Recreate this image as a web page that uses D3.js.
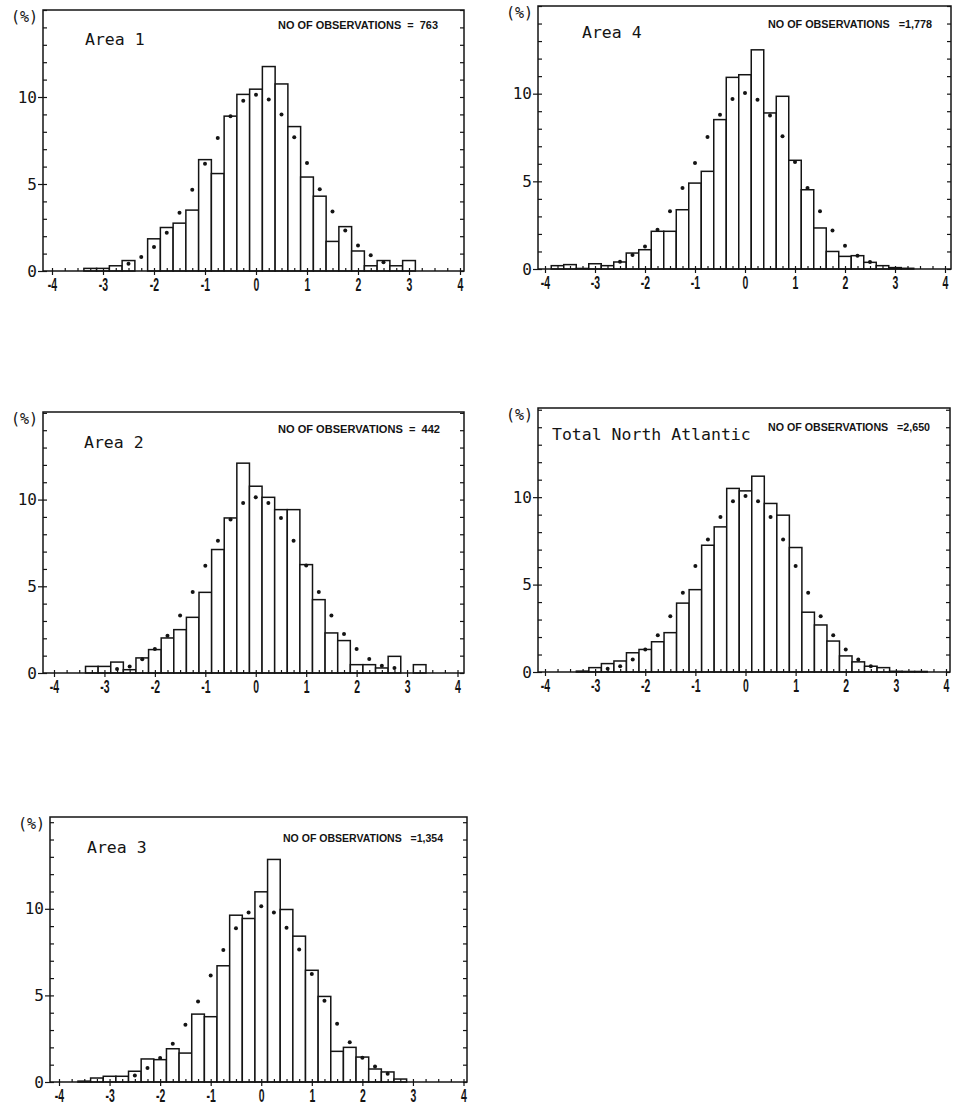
<!DOCTYPE html>
<html>
<head>
<meta charset="utf-8">
<script src="https://cdn.jsdelivr.net/npm/d3@7"></script>
<style>
  body { margin: 0; background: #fff; }
  svg { display: block; }
</style>
</head>
<body>
<svg id="chart" width="955" height="1104"></svg>
<script>
// bin centres (standardised anomaly), bin width 0.25
const binCenters = [-3.75, -3.5, -3.25, -3, -2.75, -2.5, -2.25, -2, -1.75, -1.5, -1.25, -1, -0.75, -0.5, -0.25,
  0, 0.25, 0.5, 0.75, 1, 1.25, 1.5, 1.75, 2, 2.25, 2.5, 2.75, 3, 3.25, 3.5];
const xTickValues = [-4, -3, -2, -1, 0, 1, 2, 3, 4];
const yTickValues = [0, 5, 10];

const titles = ["Area 1", "Area 4", "Area 2", "Total North Atlantic", "Area 3"];
const observations = [
  "NO OF OBSERVATIONS  =  763",
  "NO OF OBSERVATIONS   =1,778",
  "NO OF OBSERVATIONS  =  442",
  "NO OF OBSERVATIONS   =2,650",
  "NO OF OBSERVATIONS   =1,354",
];

// observed frequency (%) per bin
const area1Pct = [0, 0, 0.15, 0.15, 0.3, 0.6, 0, 1.85, 2.5, 2.75, 3.5, 6.4, 5.6, 8.9, 10.15,
  10.45, 11.75, 10.75, 8.3, 5.4, 4.3, 1.7, 2.55, 1.15, 0.3, 0.6, 0.3, 0.6, 0, 0];
const area4Pct = [0.19, 0.25, 0.03, 0.3, 0.19, 0.4, 0.91, 1.1, 2.15, 2.15, 3.38, 4.9, 5.57, 8.52, 10.93,
  11.08, 12.5, 8.9, 9.85, 6.2, 4.52, 2.34, 1.0, 0.72, 0.76, 0.38, 0.19, 0.08, 0.04, 0];
const area2Pct = [0, 0, 0.38, 0.38, 0.63, 0.19, 0.87, 1.35, 2.02, 2.5, 3.21, 4.65, 7.12, 8.94, 12.1,
  10.77, 10.13, 9.42, 9.42, 6.25, 4.23, 2.31, 1.87, 0.48, 0.48, 0.29, 0.96, 0, 0.48, 0];
const totalPct = [0, 0, 0.05, 0.25, 0.48, 0.63, 1.1, 1.29, 1.73, 2.25, 3.94, 4.71, 7.25, 8.3, 10.5,
  10.36, 11.2, 9.64, 8.97, 7.12, 3.42, 2.69, 1.77, 0.92, 0.58, 0.33, 0.25, 0.04, 0.03, 0.03];
const area3Pct = [0, 0.05, 0.23, 0.33, 0.33, 0.62, 1.33, 1.29, 1.92, 1.67, 3.92, 3.77, 6.71, 9.63, 9.44,
  10.98, 12.85, 9.96, 8.42, 6.45, 4.94, 1.77, 2.0, 1.44, 0.75, 0.58, 0.17, 0, 0, 0];

// expected (normal) frequency dots
const area1Normal = [null, null, null, null, null, 0.42, 0.8, 1.38, 2.2, 3.35, 4.67, 6.16, 7.65, 8.9, 9.79,
  10.13, 9.85, 8.99, 7.69, 6.2, 4.7, 3.42, 2.33, 1.47, 0.9, 0.5, null, null, null, null];
const area4Normal = [null, null, null, null, null, 0.42, 0.8, 1.29, 2.24, 3.29, 4.62, 6.05, 7.53, 8.8, 9.7,
  10.04, 9.66, 8.75, 7.57, 6.1, 4.62, 3.29, 2.19, 1.33, 0.75, 0.4, null, null, null, null];
const area2Normal = [null, null, null, null, 0.23, 0.38, 0.8, 1.38, 2.15, 3.31, 4.67, 6.19, 7.63, 8.85, 9.8,
  10.13, 9.8, 8.94, 7.63, 6.2, 4.67, 3.31, 2.25, 1.38, 0.81, 0.42, 0.29, null, null, null];
const totalNormal = [null, null, null, null, 0.19, 0.33, 0.71, 1.29, 2.1, 3.19, 4.54, 6.07, 7.58, 8.87, 9.77,
  10.06, 9.77, 8.87, 7.58, 6.07, 4.54, 3.19, 2.1, 1.29, 0.71, 0.33, null, null, null, null];
const area3Normal = [null, null, null, null, null, 0.37, 0.81, 1.38, 2.21, 3.31, 4.65, 6.15, 7.62, 8.87, 9.79,
  10.15, 9.79, 8.9, 7.65, 6.23, 4.69, 3.37, 2.29, 1.4, 0.9, 0.48, null, null, null, null];

const pctSeries = [area1Pct, area4Pct, area2Pct, totalPct, area3Pct];
const normalSeries = [area1Normal, area4Normal, area2Normal, totalNormal, area3Normal];

// frame placement of each panel on the page
const layout = [
  { left: 43, right: 464, top: 10, bottom: 271, x0: 52, x1: 460, yMax: 15, titleX: 42, titleY: 35, obsX: 235, obsY: 19, obsLen: 160 },
  { left: 538, right: 951, top: 6, bottom: 269, x0: 545, x1: 945, yMax: 15, titleX: 44, titleY: 32, obsX: 230, obsY: 22, obsLen: 164 },
  { left: 43, right: 464, top: 412, bottom: 673, x0: 54, x1: 457.5, yMax: 15.05, titleX: 41, titleY: 36, obsX: 235, obsY: 21, obsLen: 162 },
  { left: 538, right: 950, top: 408, bottom: 672, x0: 545, x1: 946, yMax: 15.1, titleX: 14, titleY: 32, obsX: 230, obsY: 23, obsLen: 162 },
  { left: 50, right: 467, top: 817, bottom: 1082, x0: 59, x1: 463.5, yMax: 15.3, titleX: 37, titleY: 36, obsX: 233, obsY: 25, obsLen: 160 },
];

const ink = "#141414";
const binHalf = 0.125;
const svg = d3.select("#chart");
svg.append("rect").attr("width", 955).attr("height", 1104).attr("fill", "#fff");

layout.forEach((lay, i) => {
  const x = d3.scaleLinear().domain([-4, 4]).range([lay.x0, lay.x1]);
  const y = d3.scaleLinear().domain([0, lay.yMax]).range([lay.bottom, lay.top]);
  const g = svg.append("g");

  const bars = binCenters
    .map((c, j) => ({ c, v: pctSeries[i][j] }))
    .filter((d) => d.v > 0);

  g.selectAll(".bar")
    .data(bars)
    .enter()
    .append("rect")
    .attr("class", "bar")
    .attr("x", (d) => x(d.c - binHalf))
    .attr("width", (d) => x(d.c + binHalf) - x(d.c - binHalf))
    .attr("y", (d) => y(d.v))
    .attr("height", (d) => y(0) - y(d.v))
    .attr("fill", "#fff")
    .attr("stroke", ink)
    .attr("stroke-width", 1.5);

  const dots = binCenters
    .map((c, j) => ({ c, v: normalSeries[i][j] }))
    .filter((d) => d.v !== null);

  g.selectAll(".dot")
    .data(dots)
    .enter()
    .append("circle")
    .attr("class", "dot")
    .attr("cx", (d) => x(d.c))
    .attr("cy", (d) => y(d.v))
    .attr("r", 2)
    .attr("fill", ink);

  // frame
  g.append("rect")
    .attr("x", lay.left)
    .attr("y", lay.top)
    .attr("width", lay.right - lay.left)
    .attr("height", lay.bottom - lay.top)
    .attr("fill", "none")
    .attr("stroke", ink)
    .attr("stroke-width", 1.5);

  const unitTicks = d3.range(0, Math.floor(lay.yMax) + 1);

  const styleTicks = (sel) => {
    sel.select(".domain").remove();
    sel.selectAll("line").attr("stroke", ink).attr("stroke-width", 1.2);
  };

  g.append("g")
    .attr("transform", `translate(${lay.left},0)`)
    .call(d3.axisLeft(y).tickValues(unitTicks).tickSize(-4).tickFormat(""))
    .call(styleTicks);

  g.append("g")
    .attr("transform", `translate(${lay.right},0)`)
    .call(d3.axisRight(y).tickValues(unitTicks).tickSize(-4).tickFormat(""))
    .call(styleTicks);

  g.append("g")
    .attr("transform", `translate(${lay.left},0)`)
    .call(d3.axisLeft(y).tickValues(yTickValues).tickSize(5).tickPadding(1))
    .call(styleTicks)
    .selectAll("text")
    .style("font", "16px 'DejaVu Sans Mono'")
    .attr("fill", ink);

  g.append("g")
    .attr("transform", `translate(0,${lay.bottom})`)
    .call(d3.axisBottom(x).tickValues(d3.range(-4, 4.01, 0.25)).tickSize(-3).tickFormat(""))
    .call(styleTicks);

  g.append("g")
    .attr("transform", `translate(0,${lay.bottom})`)
    .call(d3.axisBottom(x).tickValues(xTickValues).tickSize(4).tickPadding(3).tickFormat((d) => (d < 0 ? "-" + -d : d)))
    .call(styleTicks)
    .selectAll("text")
    .style("font", "bold 18px 'Liberation Sans'")
    .attr("fill", ink)
    .attr("transform", "scale(0.58,1)");

  g.append("text")
    .attr("x", lay.left - 5)
    .attr("y", lay.top + 12)
    .attr("text-anchor", "end")
    .style("font", "15px 'DejaVu Sans Mono'")
    .attr("fill", ink)
    .text("(%)");

  g.append("text")
    .attr("x", lay.left + lay.titleX)
    .attr("y", lay.top + lay.titleY)
    .style("font", "16.5px 'DejaVu Sans Mono'")
    .attr("fill", ink)
    .text(titles[i]);

  g.append("text")
    .attr("x", lay.left + lay.obsX)
    .attr("y", lay.top + lay.obsY)
    .attr("textLength", lay.obsLen)
    .attr("lengthAdjust", "spacingAndGlyphs")
    .style("font", "bold 11px 'Liberation Sans'")
    .style("white-space", "pre")
    .attr("fill", ink)
    .text(observations[i]);
});
</script>
</body>
</html>
